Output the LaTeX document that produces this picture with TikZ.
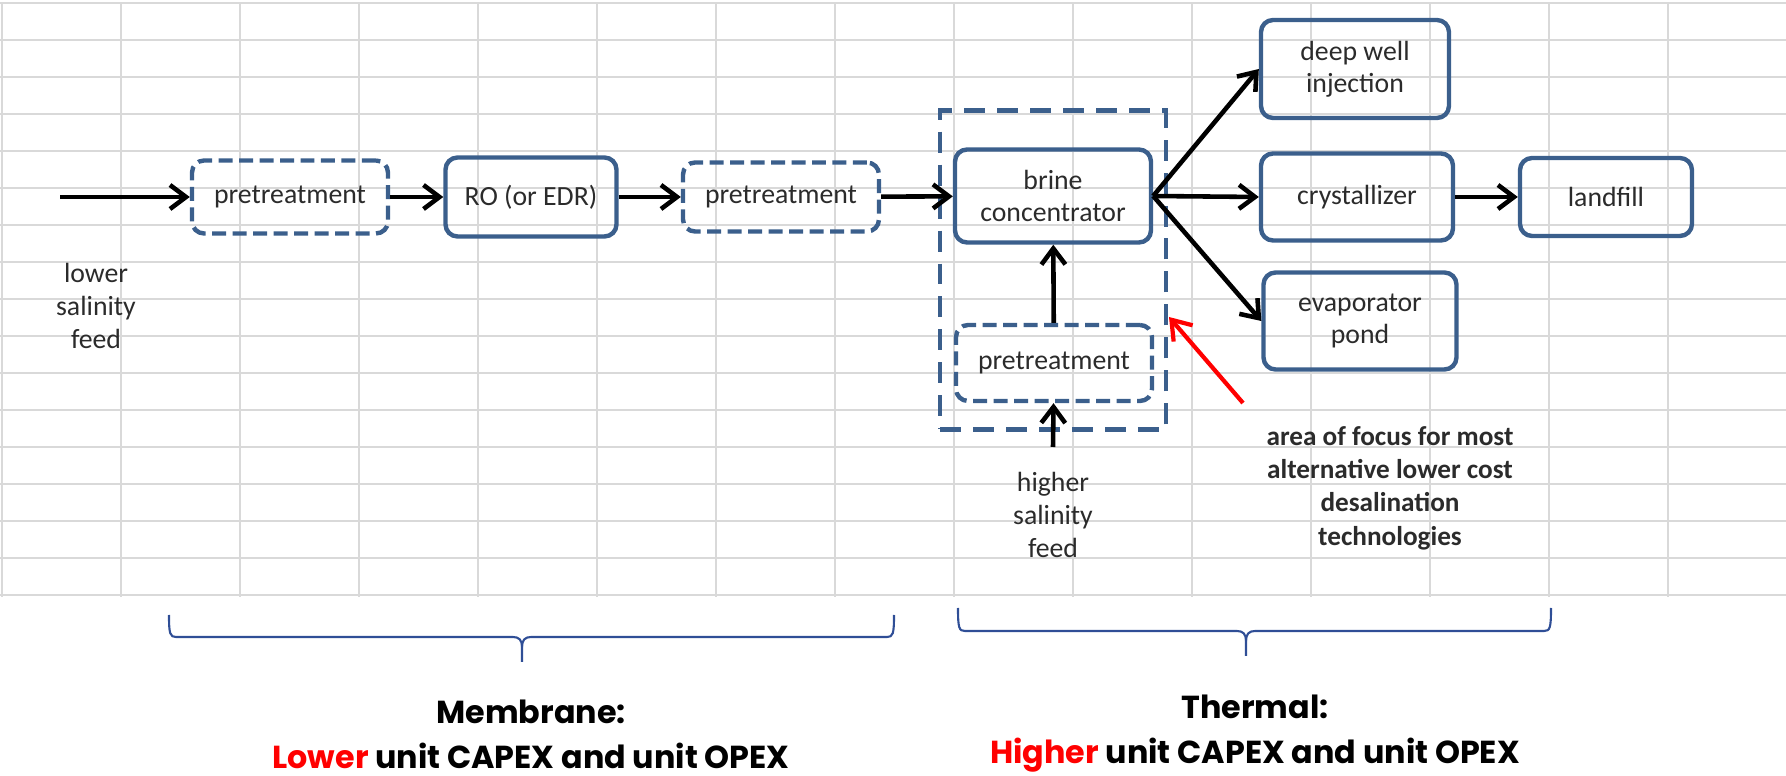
\documentclass[tikz,border=0pt]{standalone}
\usepackage{fontspec}
\setmainfont{Carlito}
\newfontfamily\costfont{Poppins}
\usetikzlibrary{arrows.meta}

\definecolor{boxblue}{HTML}{3B5F8C}
\definecolor{gridgray}{HTML}{D9D9D9}
\definecolor{braceblue}{HTML}{2F4E96}
\definecolor{labelgray}{HTML}{2B2B2B}

\newcommand\stagefont{\fontsize{15.8}{18.5}\selectfont}

\tikzset{
  stage/.style={draw=boxblue, line width=2.5pt, rounded corners=0.24cm, align=center,
    text=labelgray, font=\stagefont, inner sep=0pt},
  pre/.style={stage, dash pattern=on 0.28cm off 0.13cm, minimum width=3.92cm},
  zone/.style={draw=boxblue, line width=2.5pt, dash pattern=on 0.42cm off 0.24cm, inner sep=0pt},
  flow/.style={line width=2.6pt, -{Straight Barb[length=0.32cm,width=0.48cm]}},
  pointer/.style={red, line width=2.4pt, -{Straight Barb[length=0.36cm,width=0.5cm]}},
  note/.style={align=center, text=labelgray, font=\fontsize{15.8}{18.8}\selectfont},
  bracket/.style={braceblue, line width=1.2pt},
  cost/.style={align=center, font=\costfont\bfseries\fontsize{18.1}{25.6}\selectfont}
}

\begin{document}
\begin{tikzpicture}[x=0.02cm, y=-0.02cm]
  \useasboundingbox (0,0) rectangle (1786,776);
  % spreadsheet grid
  \foreach \c in {0,...,14}
    \draw[gridgray, line width=1.1pt] ({2+119*\c},3) -- ({2+119*\c},597);
  \foreach \r in {0,...,16}
    \draw[gridgray, line width=1.1pt] (0,{3+37*\r}) -- (1786,{3+37*\r});

  % membrane train
  \node[pre, minimum height=1.46cm] (pre1) at (290,197) {pretreatment};
  \node[stage, minimum width=3.42cm, minimum height=1.58cm] (ro) at (531,197) {RO (or EDR)};
  \node[pre, minimum height=1.38cm] (pre2) at (781,197) {pretreatment};

  % thermal train
  \node[zone, minimum width=4.52cm, minimum height=6.38cm] (thermal) at (1053,270) {};
  \node[stage, minimum width=3.92cm, minimum height=1.86cm] (brine) at (1053,196) {brine\\concentrator};
  \node[pre, minimum height=1.52cm] (pre3) at (1054,363) {pretreatment};
  \node[stage, minimum width=3.76cm, minimum height=1.96cm] (deep) at (1355,69) {deep well\\injection};
  \node[stage, minimum width=3.84cm, minimum height=1.74cm] (cryst) at (1357,197) {crystallizer};
  \node[stage, minimum width=3.44cm, minimum height=1.56cm] (land) at (1606,197) {landfill};
  \node[stage, minimum width=3.86cm, minimum height=1.94cm] (evap) at (1360,321) {evaporator\\pond};

  \node[note] (lowfeed) at (96,306) {lower\\salinity\\feed};
  \node[note] (highfeed) at (1053,515) {higher\\salinity\\feed};
  \node[note, font=\bfseries\fontsize{15.5}{19}\selectfont] (focus) at (1390,488)
    {area of focus for most\\alternative lower cost\\desalination\\technologies};

  \coordinate (lowin) at (60,197);
  \coordinate (highin) at (1053,447);
  \coordinate (focusfrom) at (1243,403);
  \coordinate (focusto) at (1169,317);

  \draw[flow] (lowin) -- (pre1);
  \draw[flow] (pre1) -- (ro);
  \draw[flow] (ro) -- (pre2);
  \draw[flow] (pre2) -- (brine);
  \draw[flow] (highin) -- (pre3);
  \draw[flow] (pre3) -- (brine);
  \foreach \n in {deep, cryst, evap}
    \draw[flow] (brine.east) -- (\n.west);
  \draw[flow] (cryst) -- (land);
  \draw[pointer] (focusfrom) -- (focusto);

  % braces under the two groups
  \foreach \l/\m/\r/\t/\h in {169/522/894/615/637, 958/1246/1551/608/631}{
    \draw[bracket] (\l,\t) .. controls (\l,{\h-3}) and ({\l+1},\h) .. ({\l+7},\h)
      -- ({\m-9},\h) .. controls ({\m-3},\h) and (\m,{\h+3}) .. (\m,{\h+10}) -- (\m,{\h+25});
    \draw[bracket] (\m,{\h+10}) .. controls (\m,{\h+3}) and ({\m+3},\h) .. ({\m+9},\h)
      -- ({\r-7},\h) .. controls ({\r-1},\h) and (\r,{\h-3}) .. (\r,\t);
  }

  \node[cost] (membrane) at (531,734) {Membrane:\\\textcolor{red}{Lower} unit CAPEX and unit OPEX};
  \node[cost] (thermalcost) at (1255,734) {Thermal:\\\textcolor{red}{Higher} unit CAPEX and unit OPEX};
\end{tikzpicture}
\end{document}
